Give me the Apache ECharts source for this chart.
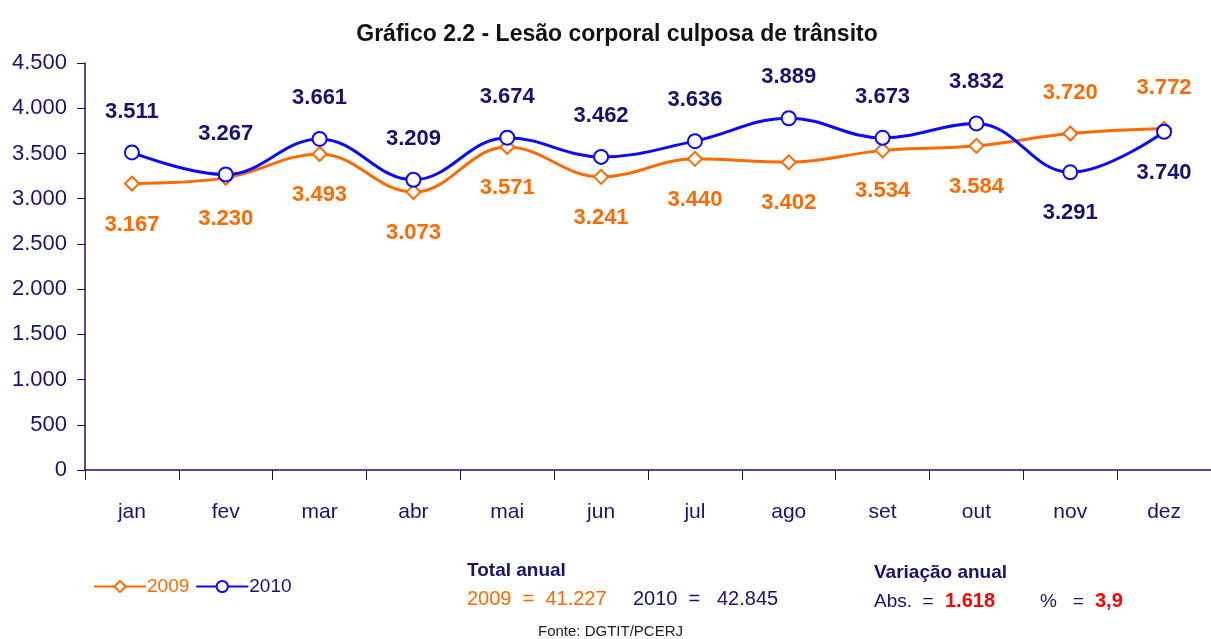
<!DOCTYPE html>
<html>
<head>
<meta charset="utf-8">
<script src="https://cdn.jsdelivr.net/npm/echarts@6/dist/echarts.min.js"></script>
<style>
  html, body { margin: 0; padding: 0; background: #fff; }
  #chart { width: 1211px; height: 639px; }
</style>
</head>
<body>
<div id="chart"></div>
<script>
const months = ['jan', 'fev', 'mar', 'abr', 'mai', 'jun', 'jul', 'ago', 'set', 'out', 'nov', 'dez'];
const values2009 = [3167, 3230, 3493, 3073, 3571, 3241, 3440, 3402, 3534, 3584, 3720, 3772];
const values2010 = [3511, 3267, 3661, 3209, 3674, 3462, 3636, 3889, 3673, 3832, 3291, 3740];
// meses onde os rótulos trocam de lado
const flipIdx = [10, 11];

const FONT = '"Liberation Sans Narrow", "Liberation Sans", Arial, sans-serif';
const ORANGE = '#ff6a00';
const BLUE = '#0a0aff';
const NAVY = '#14146e';
const RED = '#ff0000';

function fmt(v) {
  return String(v).replace(/\B(?=(\d{3})+(?!\d))/g, '.');
}

function seriesData(values, normalPos, flipPos) {
  return values.map((v, i) => ({
    value: v,
    label: { position: flipIdx.includes(i) ? flipPos : normalPos }
  }));
}

const chart = echarts.init(document.getElementById('chart'));

chart.setOption({
  animation: false,
  textStyle: { fontFamily: FONT },
  title: {
    text: 'Gráfico 2.2 - Lesão corporal culposa de trânsito',
    left: 612,
    textAlign: 'center',
    top: 18,
    textStyle: { fontFamily: FONT, fontSize: 23, fontWeight: 'bold', color: '#111' }
  },
  grid: { left: 85, right: 0, top: 63, bottom: 169 },
  legend: {
    left: 88,
    top: 572,
    itemWidth: 52,
    itemHeight: 14,
    itemGap: 6,
    data: [
      { name: '2009', textStyle: { color: ORANGE } },
      { name: '2010', textStyle: { color: NAVY } }
    ],
    textStyle: { fontFamily: FONT, fontSize: 19, padding: [0, 0, 0, -4] }
  },
  xAxis: {
    type: 'category',
    data: months,
    boundaryGap: true,
    axisLine: { lineStyle: { color: NAVY, width: 1.5 } },
    axisTick: { show: true, length: 10, lineStyle: { color: NAVY } },
    axisLabel: { color: NAVY, fontSize: 21, margin: 32, fontFamily: FONT }
  },
  yAxis: {
    type: 'value',
    min: 0,
    max: 4500,
    interval: 500,
    axisLine: { show: true, lineStyle: { color: NAVY, width: 1.5 } },
    axisTick: { show: true, length: 8, lineStyle: { color: NAVY } },
    splitLine: { show: false },
    axisLabel: { color: NAVY, fontSize: 22, margin: 18, fontFamily: FONT, formatter: fmt }
  },
  series: [
    {
      name: '2009',
      type: 'line',
      smooth: 0.4,
      data: seriesData(values2009, 'bottom', 'top'),
      symbol: 'emptyDiamond',
      symbolSize: 14,
      lineStyle: { color: ORANGE, width: 3 },
      itemStyle: { color: ORANGE, borderWidth: 1.5 },
      label: {
        show: true,
        distance: 22,
        color: ORANGE,
        fontSize: 22,
        fontWeight: 'bold',
        fontFamily: FONT,
        formatter: p => fmt(p.value)
      },
      z: 2
    },
    {
      name: '2010',
      type: 'line',
      smooth: 0.4,
      data: seriesData(values2010, 'top', 'bottom'),
      symbol: 'emptyCircle',
      symbolSize: 14,
      lineStyle: { color: BLUE, width: 3 },
      itemStyle: { color: BLUE, borderWidth: 1.5 },
      label: {
        show: true,
        distance: 22,
        color: NAVY,
        fontSize: 22,
        fontWeight: 'bold',
        fontFamily: FONT,
        formatter: p => fmt(p.value)
      },
      z: 3
    }
  ],
  graphic: [
    { type: 'text', left: 467, top: 561, style: { text: 'Total anual', fill: NAVY, font: 'bold 19px ' + FONT } },
    { type: 'text', left: 467, top: 589, style: { text: '2009  =  41.227', fill: ORANGE, font: '20px ' + FONT } },
    { type: 'text', left: 633, top: 589, style: { text: '2010  =   42.845', fill: NAVY, font: '20px ' + FONT } },
    { type: 'text', left: 874, top: 563, style: { text: 'Variação anual', fill: NAVY, font: 'bold 19px ' + FONT } },
    { type: 'text', left: 874, top: 592, style: { text: 'Abs.  =', fill: NAVY, font: '19px ' + FONT } },
    { type: 'text', left: 945, top: 591, style: { text: '1.618', fill: RED, font: 'bold 20px ' + FONT } },
    { type: 'text', left: 1040, top: 592, style: { text: '%   =', fill: NAVY, font: '19px ' + FONT } },
    { type: 'text', left: 1095, top: 591, style: { text: '3,9', fill: RED, font: 'bold 20px ' + FONT } },
    { type: 'text', left: 538, top: 624, style: { text: 'Fonte: DGTIT/PCERJ', fill: '#222', font: '15px ' + FONT } }
  ]
});
</script>
</body>
</html>
